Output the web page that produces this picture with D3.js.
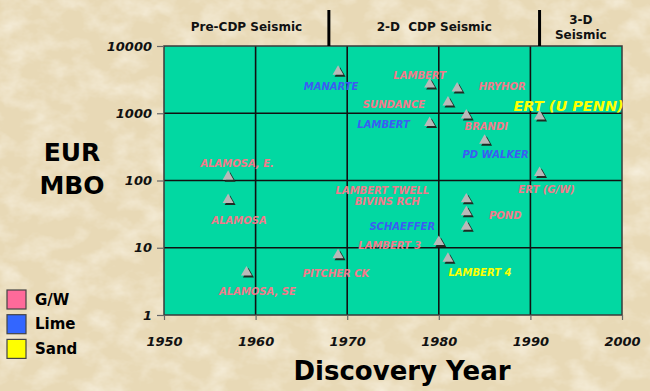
<!DOCTYPE html>
<html>
<head>
<meta charset="utf-8">
<script src="https://cdn.jsdelivr.net/npm/d3@7"></script>
<style>
    body { margin: 0; background: #ede0c2; }
    #chart { width: 650px; height: 391px; }
    text { font-family: "DejaVu Sans", Verdana, sans-serif; font-weight: bold; white-space: pre; }
</style>
</head>
<body>
<div id="chart"></div>
<script>
// discoveries (year, EUR in MBO)
const years  = [1957, 1957, 1959, 1969, 1969, 1979, 1979, 1980, 1981, 1981, 1982, 1983, 1983, 1983, 1983, 1985, 1991, 1991];
const values = [114, 51.5, 4.3, 4150, 7.8, 2700, 718, 12.2, 1456, 6.9, 2350, 933, 52.7, 33.8, 20.6, 392, 902, 130];

// field names, reservoir type and which point they belong to
const labelText  = ["ALAMOSA, E.", "ALAMOSA", "ALAMOSA, SE", "MANARTE", "PITCHER CK", "LAMBERT", "LAMBERT",
                    "LAMBERT 3", "SUNDANCE", "LAMBERT 4", "HRYHOR", "BRANDI", "LAMBERT TWELL", "BIVINS RCH",
                    "POND", "SCHAEFFER", "PD WALKER", "ERT (U PENN)", "ERT (G/W)"];
const labelType  = ["G/W", "G/W", "G/W", "Lime", "G/W", "G/W", "Lime",
                    "G/W", "G/W", "Sand", "G/W", "G/W", "G/W", "G/W",
                    "G/W", "Lime", "Lime", "Sand", "G/W"];
const labelPoint = [0, 1, 2, 3, 4, 5, 6, 7, 8, 9, 10, 11, 12, 12, 13, 14, 15, 16, 17];

// seismic eras along the top
const eraBreaks = [1950, 1968, 1991, 2000];
const eraNames  = [["Pre-CDP Seismic"], ["2-D  CDP Seismic"], ["3-D", "Seismic"]];

const legendTypes = ["G/W", "Lime", "Sand"];
const xTicks = [1950, 1960, 1970, 1980, 1990, 2000];
const yTicks = [1, 10, 100, 1000, 10000];

// ---- layout ----
const width = 650, height = 391;
const plotLeft = 164, plotRight = 622, plotTop = 46, plotBottom = 315;

// label offsets from their point, px
const labelOffset = [[9, -13], [11, 21], [11, 19], [-7, 15], [-2, 18], [-10, -9], [-46, 2],
                     [-49, 4], [-54, 2], [32, 14], [45, -2], [20, 11], [-84, -9], [-79, 2],
                     [39, 3], [-64, 0], [11, 14], [29, -10], [7, 17]];

const textColor = { "G/W": "#f27a8a", "Lime": "#3c5cf2", "Sand": "#ffff00" };
const boxColor  = { "G/W": "#ff6a9a", "Lime": "#3366ff", "Sand": "#ffff00" };

const svg = d3.select("#chart")
              .append("svg")
              .attr("width", width)
              .attr("height", height);

// parchment background
const defs = svg.append("defs");
const paper = defs.append("filter").attr("id", "paper").attr("x", 0).attr("y", 0).attr("width", "100%").attr("height", "100%");
paper.append("feTurbulence").attr("type", "fractalNoise").attr("baseFrequency", "0.035 0.05").attr("numOctaves", 4).attr("seed", 3);
paper.append("feColorMatrix").attr("type", "matrix")
     .attr("values", "0 0 0 0 0.99  0 0 0 0 0.96  0 0 0 0 0.88  0 0 0 1.1 -0.45");

svg.append("rect").attr("width", width).attr("height", height).attr("fill", "#e8d9b6");
svg.append("rect").attr("width", width).attr("height", height).attr("filter", "url(#paper)");

const xScale = d3.scaleLinear().domain([1950, 2000]).range([plotLeft, plotRight]);
const yScale = d3.scaleLog().domain([1, 10000]).range([plotBottom, plotTop]);

// plot area
svg.append("rect")
   .attr("x", plotLeft).attr("y", plotTop)
   .attr("width", plotRight - plotLeft).attr("height", plotBottom - plotTop)
   .attr("fill", "#02d8a2");

// grid
svg.append("g").selectAll("line")
   .data(xTicks.slice(1, -1))
   .enter().append("line")
   .attr("x1", d => xScale(d)).attr("x2", d => xScale(d))
   .attr("y1", plotTop).attr("y2", plotBottom)
   .attr("stroke", "#111").attr("stroke-width", 1.6);

svg.append("g").selectAll("line")
   .data(yTicks.slice(1, -1))
   .enter().append("line")
   .attr("x1", plotLeft).attr("x2", plotRight)
   .attr("y1", d => yScale(d)).attr("y2", d => yScale(d))
   .attr("stroke", "#111").attr("stroke-width", 1.6);

svg.append("rect")
   .attr("x", plotLeft).attr("y", plotTop)
   .attr("width", plotRight - plotLeft).attr("height", plotBottom - plotTop)
   .attr("fill", "none").attr("stroke", "#3a3a3a").attr("stroke-width", 1.5);

// axes
const yAxis = d3.axisLeft(yScale).tickValues(yTicks).tickFormat(d3.format("d")).tickSize(7).tickPadding(5);
const xAxis = d3.axisBottom(xScale).tickValues(xTicks).tickFormat(d3.format("d")).tickSize(5).tickPadding(17);

const gy = svg.append("g").attr("transform", "translate(" + plotLeft + ",0)").call(yAxis);
const gx = svg.append("g").attr("transform", "translate(0," + plotBottom + ")").call(xAxis);
[gx, gy].forEach(g => {
    g.select(".domain").remove();
    g.selectAll(".tick line").attr("stroke", "#666").attr("stroke-width", 1.2);
    g.selectAll(".tick text")
     .attr("fill", "#111")
     .style("font-size", "13px")
     .style("font-style", "italic")
     .style("font-family", "'DejaVu Sans', Verdana, sans-serif")
     .style("font-weight", "bold");
});

// eras
svg.append("g").selectAll("line")
   .data(eraBreaks.slice(1, -1))
   .enter().append("line")
   .attr("x1", d => xScale(d)).attr("x2", d => xScale(d))
   .attr("y1", 10).attr("y2", plotTop)
   .attr("stroke", "#000").attr("stroke-width", 3);

eraNames.forEach((lines, i) => {
    const cx = xScale((eraBreaks[i] + eraBreaks[i + 1]) / 2);
    const t = svg.append("text")
                 .attr("x", cx)
                 .attr("y", lines.length > 1 ? 24 : 31)
                 .attr("text-anchor", "middle")
                 .style("font-size", "12px")
                 .attr("fill", "#111");
    lines.forEach((s, j) => {
        t.append("tspan").attr("x", cx).attr("dy", j === 0 ? 0 : 14.5).text(s);
    });
});

// points: gray triangles with a dark drop shadow
const tri = d3.symbol().type(d3.symbolTriangle).size(52);
const pts = years.map((y, i) => [xScale(y), yScale(values[i])]);

svg.append("g").selectAll("path")
   .data(pts)
   .enter().append("path")
   .attr("d", tri)
   .attr("transform", d => "translate(" + (d[0] + 2) + "," + (d[1] + 2) + ")")
   .attr("fill", "#1e2a22");

svg.append("g").selectAll("path")
   .data(pts)
   .enter().append("path")
   .attr("d", tri)
   .attr("transform", d => "translate(" + d[0] + "," + d[1] + ")")
   .attr("fill", "#b9b9b9");

// field labels
svg.append("g").selectAll("text")
   .data(labelText)
   .enter().append("text")
   .attr("x", (d, i) => pts[labelPoint[i]][0] + labelOffset[i][0])
   .attr("y", (d, i) => pts[labelPoint[i]][1] + labelOffset[i][1])
   .attr("text-anchor", "middle")
   .attr("dominant-baseline", "central")
   .attr("fill", (d, i) => textColor[labelType[i]])
   .style("font-style", "italic")
   .style("font-size", d => d === "ERT (U PENN)" ? "14.5px" : "10px")
   .text(d => d);

// axis titles
svg.append("text")
   .attr("x", 402).attr("y", 380)
   .attr("text-anchor", "middle")
   .style("font-size", "26px")
   .attr("fill", "#000")
   .text("Discovery Year");

svg.append("text")
   .attr("x", 72).attr("y", 161)
   .attr("text-anchor", "middle")
   .style("font-size", "25px")
   .attr("fill", "#000")
   .text("EUR");
svg.append("text")
   .attr("x", 72).attr("y", 194)
   .attr("text-anchor", "middle")
   .style("font-size", "25px")
   .attr("fill", "#000")
   .text("MBO");

// legend
const legend = svg.append("g").selectAll("g")
   .data(legendTypes)
   .enter().append("g")
   .attr("transform", (d, i) => "translate(7," + (290 + i * 24.7) + ")");

legend.append("rect")
   .attr("width", 19).attr("height", 19)
   .attr("fill", d => boxColor[d])
   .attr("stroke", "#444").attr("stroke-width", 1.2);

legend.append("text")
   .attr("x", 28).attr("y", 9.5)
   .attr("dominant-baseline", "central")
   .style("font-size", "15px")
   .attr("fill", "#000")
   .text(d => d);
</script>
</body>
</html>
